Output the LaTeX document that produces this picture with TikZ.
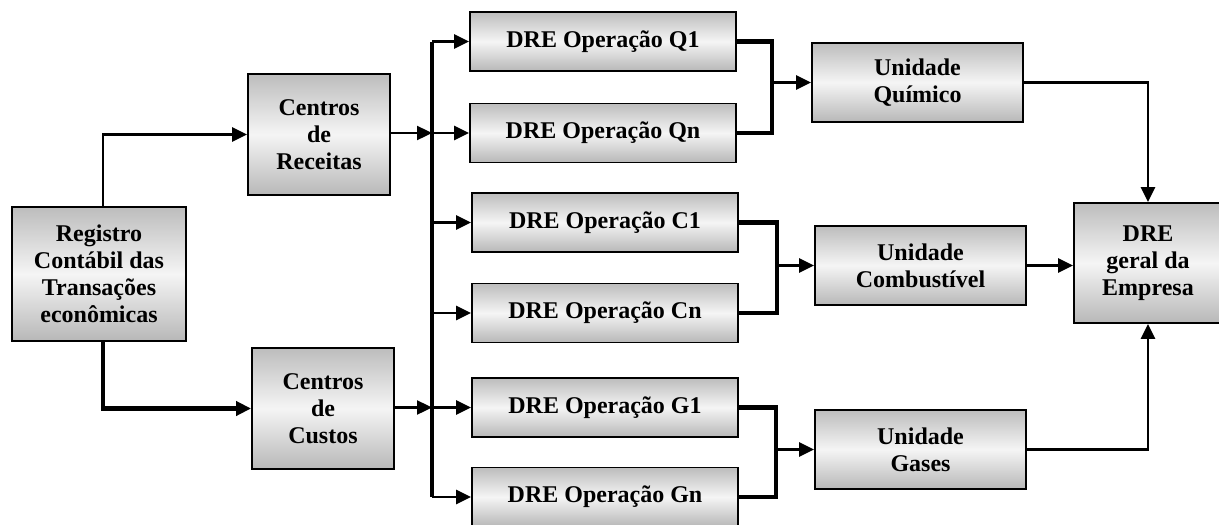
\documentclass[tikz,border=0pt]{standalone}
\usepackage{fontspec}
\setmainfont{Liberation Serif}
\usetikzlibrary{arrows.meta}
\begin{document}
\begin{tikzpicture}[x=1pt,y=-1pt,
  box/.style={draw=black, line width=1.8pt, top color=black!26, bottom color=black!28, middle color=black!4,
    align=center, font=\fontsize{24}{27}\selectfont\bfseries, inner sep=0pt},
  thinln/.style={line width=2.4pt},
  thickln/.style={line width=4.4pt},
  tip/.style={-{Triangle[length=15pt,width=14pt]}}
]
\useasboundingbox (0,0) rectangle (1219,525);
% left boxes
\node[box, minimum width=174, minimum height=134] (reg) at (99,274) {Registro\\Contábil das\\Transações\\econômicas};
\node[box, minimum width=142, minimum height=121] (rec) at (319,134.5) {Centros\\de\\Receitas};
\node[box, minimum width=142, minimum height=121] (cus) at (323,408.5) {Centros\\de\\Custos};
% operation boxes
\node[box, minimum width=266, minimum height=59] (q1) at (603,41.5) {DRE Operação Q1};
\node[box, minimum width=266, minimum height=59] (qn) at (603,133) {DRE Operação Qn};
\node[box, minimum width=266, minimum height=59] (c1) at (605,222.5) {DRE Operação C1};
\node[box, minimum width=266, minimum height=59] (cn) at (605,313) {DRE Operação Cn};
\node[box, minimum width=266, minimum height=59] (g1) at (605,407.5) {DRE Operação G1};
\node[box, minimum width=266, minimum height=59] (gn) at (605,497) {DRE Operação Gn};
% units
\node[box, minimum width=211, minimum height=79] (uq) at (917.5,82.5) {Unidade\\Químico};
\node[box, minimum width=211, minimum height=79] (uc) at (920.5,265.5) {Unidade\\Combustível};
\node[box, minimum width=211, minimum height=79] (ug) at (920.5,449.5) {Unidade\\Gases};
% final
\node[box, minimum width=148, minimum height=120] (dre) at (1148,263) {DRE\\geral da\\Empresa};
% helper coordinates
\coordinate (bx) at (432,0);
\coordinate (qb) at (772,0);
\coordinate (cb) at (777,0);
\coordinate (gb) at (776,0);
% registro connections
\draw[thinln,tip] ([xshift=4pt]reg.north) |- (rec.west);
\draw[thickln,tip] ([xshift=4pt]reg.south) |- (cus.west);
% bus
\draw[thickln] (bx |- q1.west) -- (bx |- gn.west);
\draw[thinln,tip] (rec.east |- qn.west) -- (bx |- qn.west);
\draw[thinln,tip] (cus.east |- g1.west) -- (bx |- g1.west);
\foreach \n in {q1,qn,c1,cn,g1,gn}
  \draw[thinln,tip] (bx |- \n.west) -- (\n.west);
% brackets
\draw[thickln] (q1.east) -| (qb |- qn.east) -- (qn.east);
\draw[thickln] (c1.east) -| (cb |- cn.east) -- (cn.east);
\draw[thickln] (g1.east) -| (gb |- gn.east) -- (gn.east);
\draw[thinln,tip] (qb |- uq.west) -- (uq.west);
\draw[thinln,tip] (cb |- uc.west) -- (uc.west);
\draw[thinln,tip] (gb |- ug.west) -- (ug.west);
% to final
\draw[thinln,tip] (uq.east) -| (dre.north);
\draw[thinln,tip] (uc.east) -- (uc.east -| dre.west);
\draw[thinln,tip] (ug.east) -| (dre.south);
\end{tikzpicture}
\end{document}
